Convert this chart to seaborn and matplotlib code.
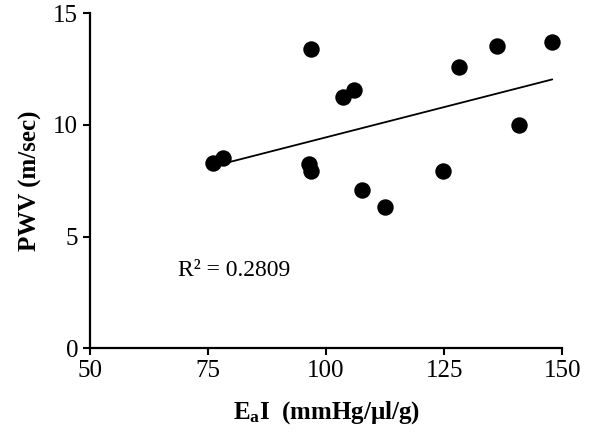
import matplotlib
matplotlib.use("Agg")
import matplotlib.pyplot as plt
import pandas as pd
import seaborn as sns

# values
eai = [76.1, 78.1, 96.9, 103.5, 105.9, 96.4, 96.8, 107.5, 112.5, 124.7, 128.2, 136.1, 147.9, 140.8]
pwv = [8.28, 8.53, 13.40, 11.24, 11.54, 8.25, 7.95, 7.09, 6.31, 7.94, 12.61, 13.54, 13.71, 9.99]
r2_label = "R² = 0.2809"

df = pd.DataFrame({"EaI": eai, "PWV": pwv})

sns.set_style("ticks")
plt.rcParams["font.family"] = ["Liberation Serif", "DejaVu Serif"]
plt.rcParams["text.color"] = "black"
plt.rcParams["axes.labelcolor"] = "black"
plt.rcParams["mathtext.fontset"] = "custom"
plt.rcParams["mathtext.rm"] = "Liberation Serif:bold"
plt.rcParams["mathtext.it"] = "Liberation Serif:bold"
plt.rcParams["mathtext.bf"] = "Liberation Serif:bold"

fig = plt.figure(figsize=(6, 4.37), dpi=100)
ax = fig.add_axes([0.15, 0.203, 0.787, 0.767])

sns.scatterplot(data=df, x="EaI", y="PWV", ax=ax, color="black", s=140,
                edgecolor="black", linewidth=0, zorder=3)
# linear trendline
sns.regplot(data=df, x="EaI", y="PWV", ax=ax, scatter=False, ci=None,
            color="black", line_kws={"linewidth": 1.3})

ax.text(68.6, 3.5, r2_label, fontsize=17, ha="left", va="center",
        color="black")

ax.set_xlim(50, 150)
ax.set_ylim(0, 15)
ax.set_xticks([50, 75, 100, 125, 150])
ax.set_yticks([0, 5, 10, 15])
ax.tick_params(axis="both", labelsize=18, direction="out", length=5,
               width=1.5, color="black", labelcolor="black")
ax.set_xlabel(r"E$_{\mathrm{a}}$I  (mmHg/μl/g)", fontsize=18,
              fontweight="bold", labelpad=12, color="black")
ax.set_ylabel("PWV (m/sec)", fontsize=18, fontweight="bold", labelpad=8,
              color="black")

sns.despine(ax=ax)
for side in ["left", "bottom"]:
    ax.spines[side].set_linewidth(1.6)
    ax.spines[side].set_color("black")

fig.savefig("out.png", dpi=100)
plt.close(fig)
